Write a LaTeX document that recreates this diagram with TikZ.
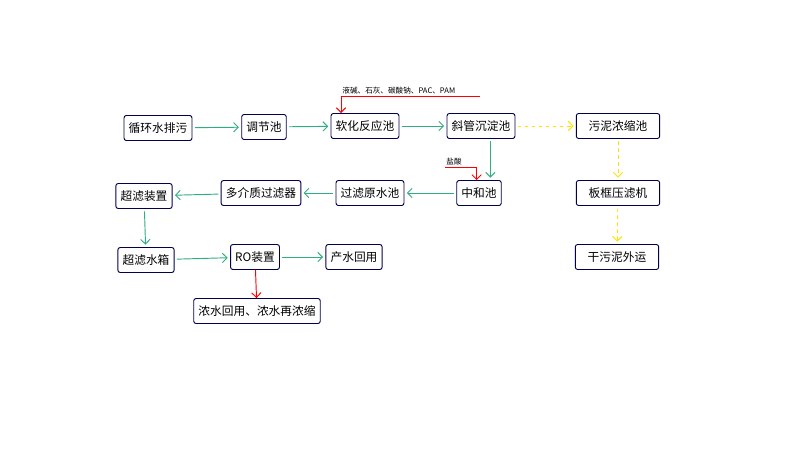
\documentclass[tikz,border=0pt]{standalone}
\usepackage{fontspec}
\setmainfont{Noto Sans CJK SC}
\usetikzlibrary{arrows.meta}
\definecolor{flowgreen}{HTML}{2EAF80}
\tikzset{
    box/.style={rectangle, draw=black!70!blue, rounded corners=2pt, thick, minimum height=0.75cm, inner xsep=4pt, font=\fontsize{10}{12}\selectfont},
    flow/.style={-{Straight Barb[length=4pt]}, draw=flowgreen, thick, shorten >=2pt, shorten <=2pt},
    mud/.style={-{Straight Barb[length=4pt]}, draw=yellow!85!orange, thick, dashed, shorten >=2pt, shorten <=2pt},
    dose/.style={-{Straight Barb[length=4pt]}, draw=red, thick}
}
\begin{document}
\begin{tikzpicture}[x=0.03cm, y=-0.03cm]
    \useasboundingbox (0,0) rectangle (790,450);

    \node[box] (pw) at (158,128) {循环水排污};
    \node[box] (tj) at (264,127) {调节池};
    \node[box] (rh) at (365,126) {软化反应池};
    \node[box] (xg) at (481,126) {斜管沉淀池};
    \node[box, minimum width=2.5cm] (wn) at (618,126) {污泥浓缩池};
    \node[box] (zh) at (479,193) {中和池};
    \node[box] (gl) at (370,193) {过滤原水池};
    \node[box] (dj) at (261,193) {多介质过滤器};
    \node[box] (cz) at (144,196) {超滤装置};
    \node[box] (cx) at (146,260) {超滤水箱};
    \node[box] (ro) at (255,257) {RO装置};
    \node[box] (cs) at (354,257) {产水回用};
    \node[box] (ns) at (257,311) {浓水回用、浓水再浓缩};
    \node[box, minimum width=2.5cm] (bk) at (618,193) {板框压滤机};
    \node[box, minimum width=2.5cm] (gw) at (617,257) {干污泥外运};

    \draw[flow] (pw) -- (tj);
    \draw[flow] (tj) -- (rh);
    \draw[flow] (rh) -- (xg);
    \draw[flow] ([xshift=8pt]xg.south) -- ([xshift=8pt]xg.south |- zh.north);
    \draw[flow] (zh) -- (gl);
    \draw[flow] (gl) -- (dj);
    \draw[flow] (dj) -- (cz);
    \draw[flow] (cz) -- (cx);
    \draw[flow] (cx) -- (ro);
    \draw[flow] (ro) -- (cs);
    \draw[dose] (ro) -- (ns);
    \draw[mud] (xg) -- (wn);
    \draw[mud] (wn) -- (bk);
    \draw[mud] (bk) -- (gw);

    % dosing lines
    \coordinate (d1) at (480,96);
    \draw[dose] (d1) -| (rh.north west -| 341,0);
    \node[font=\fontsize{6.5}{8}\selectfont, anchor=south west, inner sep=1pt] (t1) at (341,96) {液碱、石灰、碳酸钠、PAC、PAM};
    \coordinate (d2) at (445,167);
    \draw[dose] (d2) -| ([xshift=-2pt]zh.north);
    \node[font=\fontsize{6.5}{8}\selectfont, anchor=south west, inner sep=1pt] (t2) at (445,167) {盐酸};
\end{tikzpicture}
\end{document}
